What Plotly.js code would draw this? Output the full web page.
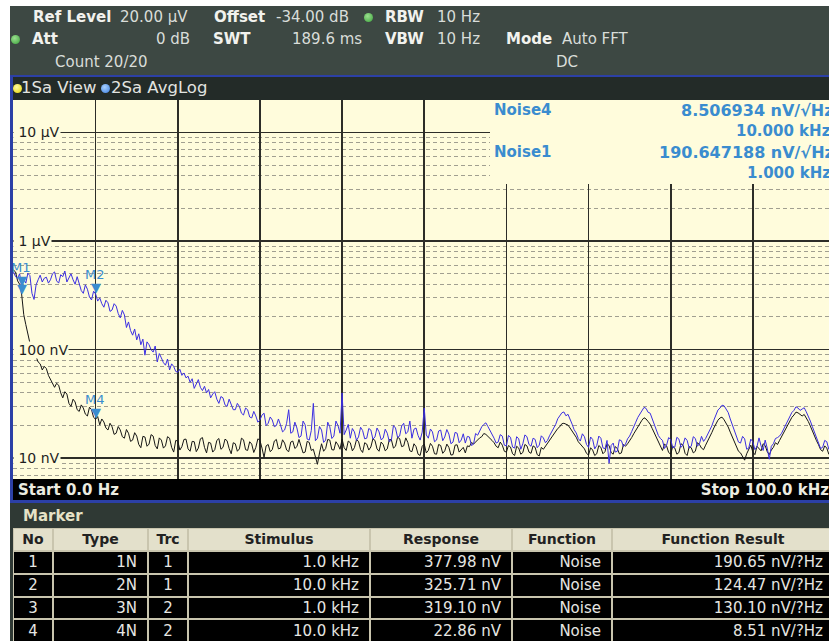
<!DOCTYPE html>
<html><head><meta charset="utf-8">
<script src="https://cdn.plot.ly/plotly-3.0.1.min.js"></script>
<style>
body{margin:0;width:829px;height:641px;overflow:hidden;position:relative;background:#fff;font-family:"DejaVu Sans",sans-serif;}
.a{position:absolute;white-space:nowrap;line-height:18px;height:18px;}
.b{font-weight:bold;color:#f2f2ee;}
.v{color:#d9ddd9;}
.dot{position:absolute;width:9px;height:9px;border-radius:50%;}
#plot{position:absolute;left:13px;top:100px;width:816px;height:379px;}
.cell{position:absolute;overflow:hidden;white-space:nowrap;box-sizing:border-box;}
</style></head><body>
<div style="position:absolute;left:10px;top:6px;width:819px;height:70px;background:#3d4843;"></div>
<div class="a b" style="left:33px;top:8px;font-size:15px;">Ref Level</div>
<div class="a v" style="left:120px;top:8px;font-size:15px;">20.00 µV</div>
<div class="a b" style="left:214px;top:8px;font-size:15px;">Offset</div>
<div class="a v" style="left:276px;top:8px;font-size:15px;">-34.00 dB</div>
<div class="dot" style="left:364px;top:13px;background:radial-gradient(circle at 40% 35%,#9be08f,#3aa23a);"></div>
<div class="a b" style="left:385px;top:8px;font-size:15px;">RBW</div>
<div class="a v" style="left:437px;top:8px;font-size:15px;">10 Hz</div>
<div class="dot" style="left:11px;top:35px;background:radial-gradient(circle at 40% 35%,#9be08f,#3aa23a);"></div>
<div class="a b" style="left:32px;top:30px;font-size:15px;">Att</div>
<div class="a v" style="left:156px;top:30px;font-size:15px;">0 dB</div>
<div class="a b" style="left:213px;top:30px;font-size:15px;">SWT</div>
<div class="a v" style="left:292px;top:30px;font-size:15px;">189.6 ms</div>
<div class="a b" style="left:385px;top:30px;font-size:15px;">VBW</div>
<div class="a v" style="left:437px;top:30px;font-size:15px;">10 Hz</div>
<div class="a b" style="left:506px;top:30px;font-size:15px;">Mode</div>
<div class="a v" style="left:562px;top:30px;font-size:15px;">Auto FFT</div>
<div class="a v" style="left:55px;top:53px;font-size:15px;">Count 20/20</div>
<div class="a v" style="left:556px;top:53px;font-size:15px;">DC</div>

<div style="position:absolute;left:10px;top:75px;width:819px;height:2px;background:#2c40a6;"></div>
<div style="position:absolute;left:10px;top:75px;width:3px;height:428px;background:#2c40a6;"></div>
<div style="position:absolute;left:13px;top:77px;width:816px;height:23px;background:#232b28;"></div>
<div class="dot" style="left:13px;top:84px;background:radial-gradient(circle at 40% 35%,#fffaa0,#e6d400);"></div>
<div class="a v" style="left:21px;top:79px;font-size:16.5px;color:#e2e4e0;">1Sa View</div>
<div class="dot" style="left:101px;top:84px;background:radial-gradient(circle at 40% 35%,#a8d0ff,#3a7ee0);"></div>
<div class="a v" style="left:111px;top:79px;font-size:16.5px;color:#e2e4e0;">2Sa AvgLog</div>

<div id="plot"></div>

<div style="position:absolute;left:13px;top:479px;width:816px;height:21px;background:#000;"></div>
<div class="a" style="left:18px;top:481px;font-size:15px;font-weight:bold;color:#ecece0;">Start 0.0 Hz</div>
<div class="a" style="right:0px;top:481px;font-size:15px;font-weight:bold;color:#ecece0;">Stop 100.0 kHz</div>
<div style="position:absolute;left:10px;top:500px;width:819px;height:3px;background:#2c40a6;"></div>
<div style="position:absolute;left:10px;top:503px;width:819px;height:138px;background:#2f3934;"></div>
<div class="a" style="left:23px;top:507px;font-size:15px;font-weight:bold;color:#e6e2c6;">Marker</div>
<div id="tbl" style="position:absolute;left:13px;top:528px;width:816px;height:113px;background:#c9c5ae;"></div>

<script>
// ---- data (spectrum values in nV, one point per 0.25 kHz from 0 to 100 kHz) ----
var freqStepKHz = 0.25;
var trace1Blue_nV = [
520,470,455,500,377.98,445,410,505,480,330,290,395,440,485,420,455,465,410,440,500,
520,430,410,490,470,530,420,455,500,440,400,470,410,350,330,395,360,305,287,345,
325.71,280,300,265,246,285,270,225,232,265,252,215,196,230,209,160,180,150,136,155,
123,140,111,125,89,118,111,100,95,108,77,92,84,76,72,82,65,74,70,63,
62,66,58,61,55,57,50,54,44,49,53,45,42,46,40,43,36,39,41,35,
32,37,36,31,30,35,31.5,28,28,32,30,26,25,29,28,24,23.5,27,24.5,21.5,
22.5,25,26,20,21,24,22.5,19.5,20,23,20.3,17.5,18.2,21,28,17,17.5,21.5,19,15.5,
16,22,20.3,15,14.7,18,32,14.5,15.3,19.6,18.2,14,14.7,21.5,19.5,15.2,16,22,20,17,
40,16.5,18.2,20.5,15.3,18.8,17.5,14.6,15.7,19.3,18,15.1,15.3,18.8,18.2,15,15.7,19,17.5,14.8,
15.3,18.5,17,14.2,14.7,20,19,15.6,16,19.8,21,16.8,17.5,22,15.3,18.5,19,16.2,14.7,17.4,
29,16.4,15.3,18.6,17.5,14.2,14.7,17.8,18.2,14.5,15.7,18.4,16.7,13.6,14.1,17.3,17,13.9,14.7,16.8,
13.8,15.9,15.7,13.1,13.5,16.9,16.3,18.2,19.5,20.5,21.2,19.6,18.2,16.9,15.3,13.8,14.1,16.5,16,13.2,
13,16.2,15.6,12.7,12.4,15.8,15.1,12.1,13.6,16.4,15.8,13.4,12.9,15.3,14.9,12.5,13.2,16.1,15.4,13.9,
14.6,16.1,17.3,18.6,20.5,23.1,24.8,26.2,26.7,24.6,25.4,22.4,20.6,18.3,17.1,15.2,14.4,16.8,15.8,13.4,
12.6,15.7,14.9,12.2,13.1,16.0,15.3,12.5,12.2,14.6,9.0,13.1,13.8,11.4,11.6,14.8,14.5,12.8,13.5,15.1,
16.0,17.6,19.2,21.5,23.8,25.6,27.2,29.4,28.8,26.5,26.0,23.2,21.0,18.2,16.2,15.2,14.6,12.3,13.2,15.5,
14.9,12.5,12.7,15.6,15.0,12.6,13.3,15.4,14.6,12.4,12.9,15.8,15.2,12.9,13.6,15.9,14.3,15.2,16.6,18.0,
19.8,22.4,25.2,27.8,29.0,30.8,30.4,28.0,26.4,23.0,20.2,17.8,16.0,14.1,13.8,15.9,15.1,12.1,12.4,15.0,
14.2,12.0,12.8,15.4,13.0,11.8,14.7,12.4,9.8,12.9,13.6,15.2,15.5,16.0,17.0,18.6,20.3,22.8,24.6,26.4,
27.6,29.8,29.0,27.6,28.4,29.2,26.8,24.5,22.0,19.5,17.4,15.6,14.4,12.3,12.6,14.6,14.2,12.1,12.9,14.5,
13.8];
var trace2Black_nV = [
540,520,430,400,319.1,210,170,140,115,104,90,86,77,74,65,70,67,58,53,50,
45,49,47,40,36,41,39,32,30,35,33,28,27,31,29,25.5,24.5,29.5,28,23.8,
22.86,24.2,20.3,23,21.6,19,18.2,21,19.5,16.6,17,19.6,18.2,15.8,15.3,18.4,17,14.3,14.7,17.2,
16,13.4,12.5,15.9,15.7,12.9,13.5,16.5,16,13.1,12.2,15.4,14.7,12.4,13,15.8,15.3,12.6,11.4,14.6,
14.4,11.9,12.8,14.9,15.0,12.2,11.6,14.3,14.2,11.5,12.4,15.1,15.5,12.6,11.2,14.0,13.8,11.4,12.0,14.6,
15.2,12.1,12.6,15.0,14.5,12.3,11.0,13.9,13.6,11.6,12.2,15.3,14.8,12.0,11.8,14.2,13.5,11.3,12.6,15.1,
14.6,12.4,10.2,13.0,13.4,11.5,12.0,14.4,14.9,12.2,12.4,14.8,13.8,11.9,11.5,14.1,14.4,12.3,12.8,14.9,
13.2,11.2,11.4,14.3,14.0,11.8,12.1,10.5,8.8,11.2,13.6,11.6,12.3,14.9,14.7,12.0,11.9,14.2,13.3,12.1,
15.0,12.5,11.8,14.4,13.9,11.7,12.5,14.8,14.3,12.0,11.3,13.9,13.5,11.9,12.7,15.1,14.6,12.2,11.6,14.1,
13.4,11.7,12.2,14.9,14.8,12.4,12.9,15.6,15.2,12.8,13.0,15.4,14.0,11.7,11.5,13.6,12.8,10.9,10.6,12.9,
13.5,11.2,11.8,13.7,12.9,11.0,10.9,13.4,13.1,11.1,11.7,13.5,12.6,10.7,10.8,13.2,13.3,11.4,12.0,12.6,
11.2,13.0,12.8,14.0,13.5,14.2,14.6,15.4,15.8,16.9,16.6,16.0,15.4,14.6,13.9,12.9,12.5,14.1,13.2,11.6,
11.4,13.1,12.7,11.0,10.6,12.9,12.4,10.9,11.3,13.4,13.0,11.4,11.1,13.0,12.6,10.8,10.5,12.6,12.1,12.9,
13.4,14.4,15.2,16.5,17.6,18.8,19.5,20.8,21.0,20.4,20.2,19.0,17.8,16.4,15.6,14.2,13.4,12.8,12.2,11.1,
10.7,12.5,11.9,10.6,11.0,13.1,12.6,11.0,11.5,13.6,13.1,11.3,10.9,12.8,12.3,11.0,11.2,13.4,12.9,13.6,
14.4,15.5,16.8,18.2,19.6,21.2,22.4,23.6,23.0,21.8,20.6,18.8,17.0,15.4,14.2,12.9,11.8,13.5,13.0,11.3,
10.9,12.9,12.4,10.9,11.3,13.6,13.2,11.1,10.6,12.8,12.5,11.2,11.6,13.9,13.4,12.4,12.0,13.2,14.3,15.8,
17.2,19.0,20.8,22.4,23.5,23.9,22.6,21.2,19.4,17.4,15.8,14.2,12.8,11.6,11.2,10.4,9.6,11.0,12.1,13.2,
11.4,10.8,12.9,12.4,11.7,13.6,13.1,11.5,10.8,11.9,12.6,13.9,13.4,14.6,15.9,17.2,18.7,20.4,22.1,23.8,
25.0,26.6,26.2,25.2,24.5,25.3,23.6,21.8,19.8,17.6,15.9,14.5,13.3,12.0,11.6,13.0,12.4,10.9,11.0,12.8,
12.0];
var markerNo = [1,2,3,4];
var markerType = ['1N','2N','3N','4N'];
var markerTrc = [1,1,2,2];
var markerStimKHz = [1.0,10.0,1.0,10.0];
var markerResp_nV = [377.98,325.71,319.10,22.86];
var markerFunc = ['Noise','Noise','Noise','Noise'];
var markerResult = [190.65,124.47,130.10,8.51];
var noiseLabels = ['Noise4','Noise1'];
var noiseValues = ['8.506934 nV/\u221AHz','190.647188 nV/\u221AHz'];
var noiseFreqs = ['10.000 kHz','1.000 kHz'];
var yTickVals = [10,100,1000,10000];
var yTickText = ['10 nV','100 nV','1 \u00B5V','10 \u00B5V'];
var xTickVals = [10,20,30,40,50,60,70,80,90];

// ---- build ----
function fAxis(arr){return arr.map(function(_,i){return i*freqStepKHz;});}
var bg = '#fffcdc';
var minorVals = [];
[1,10,100,1000].forEach(function(d){for(var k=2;k<=9;k++)minorVals.push(k*d);});
minorVals.push(20000);

var traces = [
 {x:fAxis(trace2Black_nV), y:trace2Black_nV, type:'scatter', mode:'lines', line:{color:'#161616', width:1}, hoverinfo:'skip'},
 {x:fAxis(trace1Blue_nV), y:trace1Blue_nV, type:'scatter', mode:'lines', line:{color:'#3b2ee2', width:1}, hoverinfo:'skip'}
];

var ann = [];
yTickVals.forEach(function(v,i){
 ann.push({xref:'paper', x:0, xanchor:'left', yref:'y', y:Math.log10(v), yanchor:'middle', text:'\u00a0'+yTickText[i], showarrow:false, bgcolor:bg, borderpad:0, font:{family:'DejaVu Sans', size:14, color:'#1e1e1e'}});
});
var mcol = '#3a8ccf';
markerNo.forEach(function(n,i){
 ann.push({x:markerStimKHz[i], y:Math.log10(markerResp_nV[i]), yanchor:'bottom', xanchor:'center', text:'\u25BC', showarrow:false, yshift:-3, font:{family:'DejaVu Sans', size:13, color:mcol}});
 if(n!==3) ann.push({x:markerStimKHz[i], y:Math.log10(markerResp_nV[i]), yanchor:'bottom', xanchor:'center', text:'M'+n, showarrow:false, yshift:10, xshift:-1, font:{family:'DejaVu Sans', size:13, color:mcol}});
});
var rowsY = [110,131,152,173];
function py(p){return (479-p)/379;}
function px(p){return (p-13)/816;}
var mf = {family:'DejaVu Sans', size:15, color:mcol};
var mf2 = {family:'DejaVu Sans', size:16, color:mcol};
for(var k=0;k<2;k++){
 ann.push({xref:'paper', yref:'paper', x:px(492), y:py(rowsY[2*k]), xanchor:'left', yanchor:'middle', text:'<b>'+noiseLabels[k]+'</b>', showarrow:false, font:mf});
 ann.push({xref:'paper', yref:'paper', x:px(836), y:py(rowsY[2*k]), xanchor:'right', yanchor:'middle', text:'<b>'+noiseValues[k]+'</b>', showarrow:false, font:mf2});
 ann.push({xref:'paper', yref:'paper', x:px(833), y:py(rowsY[2*k+1]), xanchor:'right', yanchor:'middle', text:'<b>'+noiseFreqs[k]+'</b>', showarrow:false, font:mf});
}

var layout = {
 width:816, height:379, margin:{l:0,r:0,t:0,b:0},
 paper_bgcolor:bg, plot_bgcolor:bg, showlegend:false,
 font:{family:'DejaVu Sans'},
 xaxis:{range:[-0.06,99.27], tickmode:'array', tickvals:xTickVals, showticklabels:false, ticks:'', showgrid:true, gridcolor:'#2d2d28', gridwidth:1.6, zeroline:false, showline:false},
 yaxis:{type:'log', range:[0.809,4.299], tickmode:'array', tickvals:yTickVals, showticklabels:false, ticks:'', showgrid:true, gridcolor:'#2d2d28', gridwidth:1.6, zeroline:false, showline:false,
   minor:{tickmode:'array', tickvals:minorVals, showgrid:true, gridcolor:'#a19f90', griddash:'4px,3px', gridwidth:1, ticks:''}},
 shapes:[{type:'rect', xref:'paper', yref:'paper', x0:px(490), x1:1.02, y0:py(184), y1:1.02, fillcolor:bg, line:{width:0}, layer:'above'}],
 annotations:ann
};
Plotly.newPlot('plot', traces, layout, {staticPlot:true, displayModeBar:false});

// ---- marker table ----
var cols = [
 {l:13,r:53,h:'No',al:'center'},{l:53,r:148,h:'Type',al:'right'},{l:148,r:188,h:'Trc',al:'center'},
 {l:188,r:370,h:'Stimulus',al:'right'},{l:370,r:512,h:'Response',al:'right'},{l:512,r:612,h:'Function',al:'right'},
 {l:612,r:834,h:'Function Result',al:'right'}];
var rowTop = [528,551,574,597,619,643];
var tbl = document.getElementById('tbl');
function cell(c, r, txt, head){
 var d = document.createElement('div'); d.className='cell';
 var L = c.l-13, T = rowTop[r]-528;
 d.style.left=(L+1)+'px'; d.style.top=(T+1)+'px';
 d.style.width=(c.r-c.l-2)+'px'; d.style.height=(rowTop[r+1]-rowTop[r]-2)+'px';
 d.style.lineHeight=(rowTop[r+1]-rowTop[r]-2)+'px';
 if(head){d.style.background='#e3e0cb'; d.style.color='#222'; d.style.fontWeight='bold'; d.style.fontSize='14px'; d.style.textAlign='center';}
 else{d.style.background='#000'; d.style.color='#e6e6e2'; d.style.fontSize='15px'; d.style.textAlign=c.al; d.style.paddingRight=(c.al==='right'?'10px':'0');}
 d.textContent = txt; tbl.appendChild(d);
}
cols.forEach(function(c){cell(c,0,c.h,true);});
markerNo.forEach(function(n,i){
 var vals=[String(n), markerType[i], String(markerTrc[i]), markerStimKHz[i].toFixed(1)+' kHz', markerResp_nV[i].toFixed(2)+' nV', markerFunc[i], markerResult[i].toFixed(2)+' nV/?Hz'];
 cols.forEach(function(c,j){cell(c,i+1,vals[j],false);});
});
</script>
</body></html>
